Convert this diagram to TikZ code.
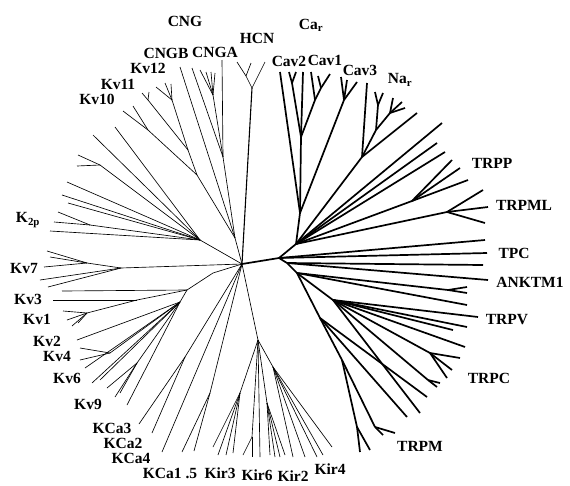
\documentclass[tikz,border=0pt]{standalone}
\usepackage{fontspec}
\setmainfont{Liberation Serif}
\newcommand\tfan[3][]{\foreach \xx/\yy in {#3} {\draw[#1] (#2) -- (\xx,\yy);}}
\begin{document}
\begin{tikzpicture}[x=1pt,y=-1pt,
  tn/.style={line width=0.65pt},
  md/.style={line width=1.1pt},
  tk/.style={line width=1.7pt},
  lab/.style={font=\bfseries\fontsize{15.5}{16}\selectfont, inner sep=0pt}]
\useasboundingbox (0,0) rectangle (570,485);
\fill[white] (0,0) rectangle (570,485);
% ---------- central junctions
\coordinate (L0) at (242,264);
\coordinate (R0) at (279,258);
\draw[tk] (L0) -- (R0);
% ---------- CNG / Kv10-12
\coordinate (JC) at (235,238);
\coordinate (CN) at (223,157);
\coordinate (CA) at (213,95);
\coordinate (KvA) at (197,175);
\coordinate (KvB) at (188,150);
\coordinate (K10) at (148,130);
\coordinate (K11) at (148,100);
\coordinate (K12) at (172,100);
\draw[tn] (L0) -- (JC);
\draw[tn] (JC) -- (KvA);
\draw[tn] (JC) -- (CN);
\draw[tn] (JC) -- (180,67);
\tfan[tn]{CN}{222/60,192/68}
\draw[tn] (CN) -- (CA);
\tfan[tn]{CA}{200/70,206/72,211/72,215/73}
\draw[tn] (KvA) -- (KvB);
\draw[tn] (KvA) -- (K10);
\tfan[tn]{K10}{123/111,133/106}
\draw[tn] (KvB) -- (K11);
\tfan[tn]{K11}{142/93,149/92}
\draw[tn] (KvB) -- (K12);
\tfan[tn]{K12}{156/87,165/83,171/84}
% ---------- HCN
\coordinate (HN) at (252,88);
\coordinate (HA) at (246,76);
\draw[md] (L0) -- (HN);
\draw[tn] (HN) -- (265,62);
\draw[tn] (HN) -- (HA);
\tfan[tn]{HA}{237/62,251/63}
% ---------- K2p fan
\coordinate (JK) at (200,240);
\coordinate (JKa) at (90,225);
\coordinate (JKb) at (100,165);
\draw[tn] (L0) -- (JK);
\tfan[tn]{JK}{115/127,93/135,67/182,62/195,68/203,50/231}
\draw[tn] (JK) -- (JKb);
\tfan[tn]{JKb}{78/155,77/166}
\draw[tn] (JK) -- (JKa);
\tfan[tn]{JKa}{58/212,54/222}
% ---------- Kv7
\coordinate (N7) at (121,268);
\coordinate (N7a) at (87,263);
\draw[tn] (L0) -- (N7);
\draw[tn] (N7) -- (N7a);
\tfan[tn]{N7a}{47/251,50/257,44/267}
\tfan[tn]{N7}{40/280,48/287}
% ---------- Kv1-9
\coordinate (KvN) at (187,290);
\coordinate (K3) at (137,300);
\coordinate (K1) at (87,313);
\coordinate (KvM) at (180,302);
\coordinate (K4) at (110,353);
\coordinate (K9) at (137,363);
\draw[tn] (L0) -- (213,273) -- (KvN);
\draw[tn] (KvN) -- (62,291);
\draw[tn] (KvN) -- (K3);
\draw[tn] (K3) -- (53,300);
\draw[tn] (K3) -- (K1);
\tfan[tn]{K1}{63/311,67/320,72/326,78/323}
\draw[tn] (KvN) -- (KvM);
\tfan[tn]{KvM}{77/340,85/368,92/383,100/380,127/405}
\draw[tn] (KvM) -- (K4);
\tfan[tn]{K4}{80/348,80/360}
\draw[tn] (KvM) -- (K9);
\tfan[tn]{K9}{107/388,115/397,120/393}
% ---------- KCa
\coordinate (KC1) at (185,357);
\coordinate (KC2) at (210,393);
\draw[tn] (L0) -- (KC1);
\tfan[tn]{KC1}{139/424,152/433}
\draw[tn] (L0) -- (162,452);
\draw[tn] (L0) -- (KC2);
\tfan[tn]{KC2}{182/452,194/451}
% ---------- Kir
\coordinate (Ki) at (258,340);
\coordinate (Ka) at (240,393);
\coordinate (Kb) at (252,437);
\coordinate (Kc) at (267,403);
\coordinate (Kd) at (273,367);
\draw[tn] (L0) -- (Ki);
\draw[tn] (Ki) -- (Ka);
\tfan[tn]{Ka}{213/447,218/455,226/455,233/453}
\draw[tn] (Ki) -- (Kb);
\tfan[tn]{Kb}{243/455,252/457}
\draw[tn] (Ki) -- (260,457);
\draw[tn] (Ki) -- (Kc);
\tfan[tn]{Kc}{270/455,275/457,280/457,285/455}
\draw[tn] (Ki) -- (Kd);
\tfan[tn]{Kd}{293/457,305/457,317/457,323/455,332/447}
% ---------- Ca / Na / TRPP / TRPML
\coordinate (U) at (296,244);
\coordinate (CaN) at (300,213);
\coordinate (Cv2) at (301,137);
\coordinate (Cv2a) at (292,83);
\coordinate (Cv1) at (315,100);
\coordinate (Cv1a) at (321,88);
\coordinate (Cv3) at (344,100);
\coordinate (NaS) at (362,157);
\coordinate (NaA) at (376,130);
\coordinate (NaB) at (378,105);
\coordinate (NaC) at (390,113);
\coordinate (TP) at (412,201);
\coordinate (TM) at (447,212);
\draw[tk] (R0) -- (U);
\draw[tk] (U) -- (CaN);
\draw[tk] (CaN) -- (280,72);
\draw[tk] (CaN) -- (Cv2);
\draw[tk] (Cv2) -- (Cv2a);
\tfan[tk]{Cv2a}{289/72,296/72}
\draw[tk] (Cv2) -- (303,72);
\draw[tk] (Cv2) -- (Cv1);
\draw[tk] (Cv1) -- (311,72);
\draw[tk] (Cv1) -- (Cv1a);
\tfan[tk]{Cv1a}{318/76,330/74}
\draw[tk] (CaN) -- (Cv3);
\tfan[tk]{Cv3}{341/77,347/80,357/82}
\draw[tk] (U) -- (NaS);
\tfan[tk]{NaS}{367/83,417/113}
\draw[tk] (NaS) -- (NaA);
\draw[tk] (NaA) -- (NaB);
\tfan[tk]{NaB}{375/92,383/93}
\draw[tk] (NaA) -- (NaC);
\tfan[tk]{NaC}{393/98,402/102,405/108}
\tfan[tk]{U}{442/123,437/143,445/152}
\draw[tk] (U) -- (TP);
\tfan[tk]{TP}{452/160,460/168,468/180}
\draw[tk] (U) -- (TM);
\tfan[tk]{TM}{483/190,488/207,485/223}
% ---------- TPC / ANKTM1 / TRPV / TRPC / TRPM
\coordinate (R1) at (287,263);
\coordinate (D) at (297,273);
\coordinate (TA) at (448,290);
\coordinate (TV) at (333,300);
\coordinate (TC) at (430,353);
\coordinate (TC2) at (428,380);
\coordinate (M0) at (320,318);
\coordinate (M1) at (342,360);
\coordinate (M2) at (357,427);
\coordinate (M3) at (375,427);
\draw[tk] (R0) -- (R1);
\tfan[tk]{R0}{485/240,487/253}
\tfan[tk]{R1}{483/265,488/280}
\draw[tk] (R1) -- (D);
\draw[tk] (D) -- (TA);
\tfan[tk]{TA}{467/287,467/293}
\draw[tk] (D) -- (467,305);
\draw[tk] (D) -- (TV);
\tfan[tk]{TV}{478/317,467/327,453/330,465/347,420/413}
\draw[tk] (TV) -- (TC);
\tfan[tk]{TC}{460/358,452/370,447/378}
\draw[tk] (TV) -- (TC2);
\tfan[tk]{TC2}{437/387,440/383}
\draw[tk] (D) -- (M0);
\tfan[tk]{M0}{427/397,407/417}
\draw[tk] (M0) -- (M1);
\draw[tk] (M1) -- (M2);
\tfan[tk]{M2}{360/452,370/450}
\draw[tk] (M1) -- (M3);
\tfan[tk]{M3}{383/435,395/433}
% ---------- labels
\node[lab] (lCNG) at (185,21) {CNG};
\node[lab] (lCNGB) at (166,53) {CNGB};
\node[lab] (lCNGA) at (215,52) {CNGA};
\node[lab] (lHCN) at (257,38) {HCN};
\node[lab] (lCar) at (311,25) {Ca\textsubscript{r}};
\node[lab] (lCav2) at (289,61) {Cav2};
\node[lab] (lCav1) at (325,60) {Cav1};
\node[lab] (lCav3) at (360,70) {Cav3};
\node[lab] (lNar) at (400,80) {Na\textsubscript{r}};
\node[lab] (lTRPP) at (492,163) {TRPP};
\node[lab] (lTRPML) at (524,205) {TRPML};
\node[lab] (lTPC) at (514,253) {TPC};
\node[lab] (lANK) at (530,282) {ANKTM1};
\node[lab] (lTRPV) at (507,320) {TRPV};
\node[lab] (lTRPC) at (489,378) {TRPC};
\node[lab] (lTRPM) at (420,446) {TRPM};
\node[lab] (lKir4) at (330,469) {Kir4};
\node[lab] (lKir2) at (293,476) {Kir2};
\node[lab] (lKir6) at (257,475) {Kir6};
\node[lab] (lKir3) at (220,473) {Kir3};
\node[lab] (lKCa15) at (170,473) {KCa1 .5};
\node[lab] (lKCa4) at (131,458) {KCa4};
\node[lab] (lKCa2) at (123,443) {KCa2};
\node[lab] (lKCa3) at (112,428) {KCa3};
\node[lab] (lKv9) at (88,404) {Kv9};
\node[lab] (lKv6) at (67,378) {Kv6};
\node[lab] (lKv4) at (57,356) {Kv4};
\node[lab] (lKv2) at (47,341) {Kv2};
\node[lab] (lKv1) at (37,319) {Kv1};
\node[lab] (lKv3) at (28,299) {Kv3};
\node[lab] (lKv7) at (24,268) {Kv7};
\node[lab] (lK2p) at (28,220) {K\textsubscript{2p}};
\node[lab] (lKv10) at (97,99) {Kv10};
\node[lab] (lKv11) at (118,84) {Kv11};
\node[lab] (lKv12) at (148,68) {Kv12};
\end{tikzpicture}
\end{document}
